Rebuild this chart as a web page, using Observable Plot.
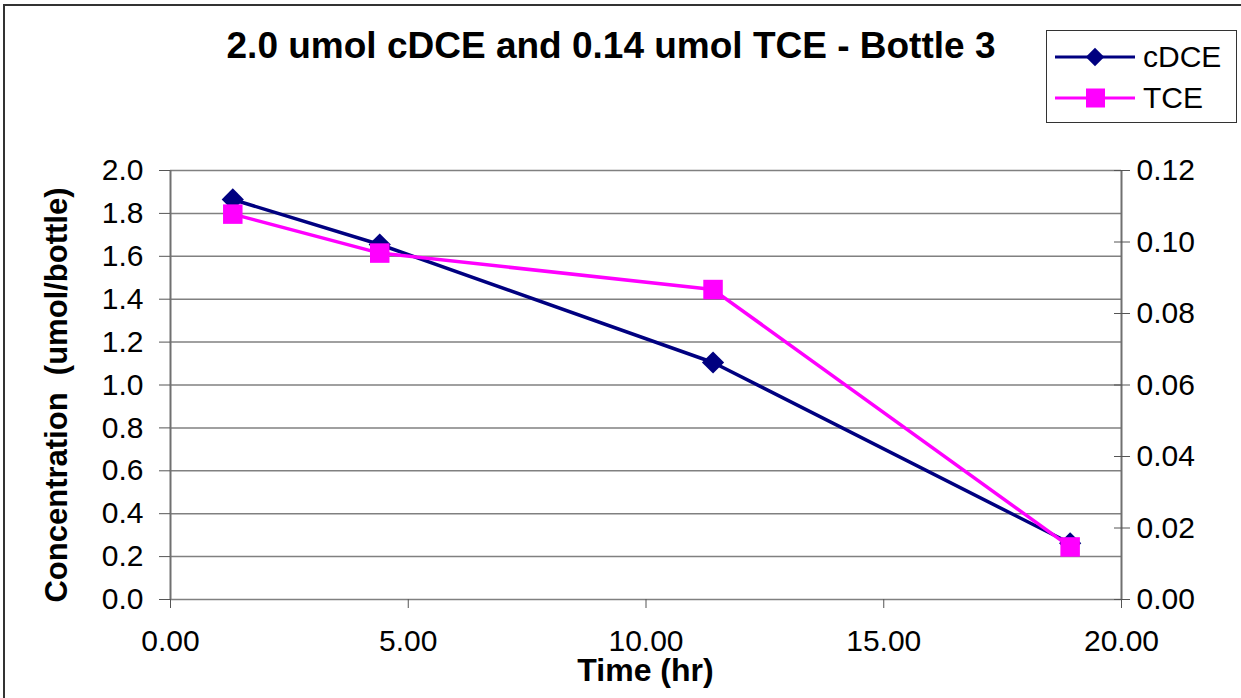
<!DOCTYPE html>
<html>
<head>
<meta charset="utf-8">
<script src="https://cdn.jsdelivr.net/npm/d3@7"></script>
<script src="https://cdn.jsdelivr.net/npm/@observablehq/plot@0.6"></script>
<style>
  html, body { margin: 0; padding: 0; background: #fff; }
  #wrap { position: relative; width: 1241px; height: 698px; overflow: hidden; font-family: "Liberation Sans", Arial, sans-serif; }
  #frame { position: absolute; left: 3px; top: 4px; width: 1300px; height: 800px; border-left: 2px solid #333; border-top: 2px solid #333; }
  #title { position: absolute; left: 0; width: 1222px; top: 25px; text-align: center; font-weight: bold; font-size: 37px; line-height: 42px; color: #000; }
  #xlabel { position: absolute; left: 0; width: 1291px; top: 652px; text-align: center; font-weight: bold; font-size: 32px; line-height: 36px; }
  #ylabel { position: absolute; left: 57px; top: 395px; transform: translate(-50%, -50%) rotate(-90deg); white-space: pre; font-weight: bold; font-size: 31px; line-height: 34px; }
  #legend { position: absolute; left: 1046px; top: 30px; }
  svg { display: block; }
</style>
</head>
<body>
<div id="wrap">
  <div id="frame"></div>
  <div id="chart" style="position:absolute;left:0;top:0;"></div>
  <div id="title"></div>
  <div id="xlabel"></div>
  <div id="ylabel"></div>
  <div id="legend"></div>
</div>
<script>
// ---- data ----
const titleText = "2.0 umol cDCE and 0.14 umol TCE - Bottle 3";
const xTitle = "Time (hr)";
const yTitle = "Concentration  (umol/bottle)";
const seriesNames = ["cDCE", "TCE"];
const seriesColors = ["#000080", "#FF00FF"];
const timeHr = [1.31, 4.40, 11.41, 18.92];
const cDCE = [1.865, 1.655, 1.105, 0.262];
const TCE = [0.1078, 0.0969, 0.0867, 0.0147];
const xTicks = [0, 5, 10, 15, 20];
const yLeftTicks = [0, 0.2, 0.4, 0.6, 0.8, 1.0, 1.2, 1.4, 1.6, 1.8, 2.0];
const yRightTicks = [0, 0.02, 0.04, 0.06, 0.08, 0.10, 0.12];

const leftMax = 2.0, rightMax = 0.12;
const k = leftMax / rightMax;

const dDCE = timeHr.map((t, i) => ({t, v: cDCE[i]}));
const dTCE = timeHr.map((t, i) => ({t, v: TCE[i] * k}));

const font = '"Liberation Sans", Arial, sans-serif';

const chart = Plot.plot({
  width: 1241,
  height: 698,
  marginLeft: 170,
  marginRight: 120,
  marginTop: 170,
  marginBottom: 99,
  style: { fontFamily: font, fontSize: "30px", color: "#000", background: "transparent" },
  x: { domain: [0, 20] },
  y: { domain: [0, 2] },
  marks: [
    Plot.ruleY(yLeftTicks, { stroke: "#808080", strokeWidth: 1.5 }),
    Plot.ruleX([0, 20], { stroke: "#707070", strokeWidth: 2 }),
    Plot.axisX({ ticks: xTicks, tickFormat: d => d.toFixed(2), tickSize: 9, tickPadding: 21, label: null, stroke: "#555", fontSize: 30 }),
    Plot.axisY({ anchor: "left", ticks: yLeftTicks, tickFormat: d => d.toFixed(1), tickSize: 11, tickPadding: 16, label: null, stroke: "#555", fontSize: 30 }),
    Plot.axisY({ anchor: "right", ticks: yRightTicks.map(v => v * k), tickFormat: d => (d / k).toFixed(2), tickSize: 16, dx: -8, tickPadding: 7, label: null, stroke: "#555", fontSize: 30 }),
    Plot.line(dDCE, { x: "t", y: "v", stroke: seriesColors[0], strokeWidth: 3.5 }),
    Plot.line(dTCE, { x: "t", y: "v", stroke: seriesColors[1], strokeWidth: 3.5 }),
    Plot.dot(dDCE, { x: "t", y: "v", symbol: "diamond2", r: 10, fill: seriesColors[0], stroke: null }),
    Plot.dot(dTCE, { x: "t", y: "v", symbol: "square", r: 11, fill: seriesColors[1], stroke: null })
  ]
});
document.getElementById("chart").appendChild(chart);

document.getElementById("title").textContent = titleText;
document.getElementById("xlabel").textContent = xTitle;
document.getElementById("ylabel").textContent = yTitle;

// legend
const lg = d3.select("#legend").append("svg").attr("width", 192).attr("height", 94);
lg.append("rect").attr("x", 0.5).attr("y", 0.5).attr("width", 190).attr("height", 92)
  .attr("fill", "#fff").attr("stroke", "#333").attr("stroke-width", 1);
seriesNames.forEach((name, i) => {
  const y = 27 + i * 41;
  lg.append("line").attr("x1", 9).attr("x2", 89).attr("y1", y).attr("y2", y)
    .attr("stroke", seriesColors[i]).attr("stroke-width", 3);
  if (i === 0) {
    lg.append("path").attr("d", d3.symbol(d3.symbolSquare, 170)()).attr("transform", `translate(49,${y}) rotate(45)`).attr("fill", seriesColors[i]);
  } else {
    lg.append("rect").attr("x", 40).attr("y", y - 9.5).attr("width", 19).attr("height", 19).attr("fill", seriesColors[i]);
  }
  lg.append("text").attr("x", 97).attr("y", y + 10).attr("font-family", font).attr("font-size", 30).text(name);
});
</script>
</body>
</html>
